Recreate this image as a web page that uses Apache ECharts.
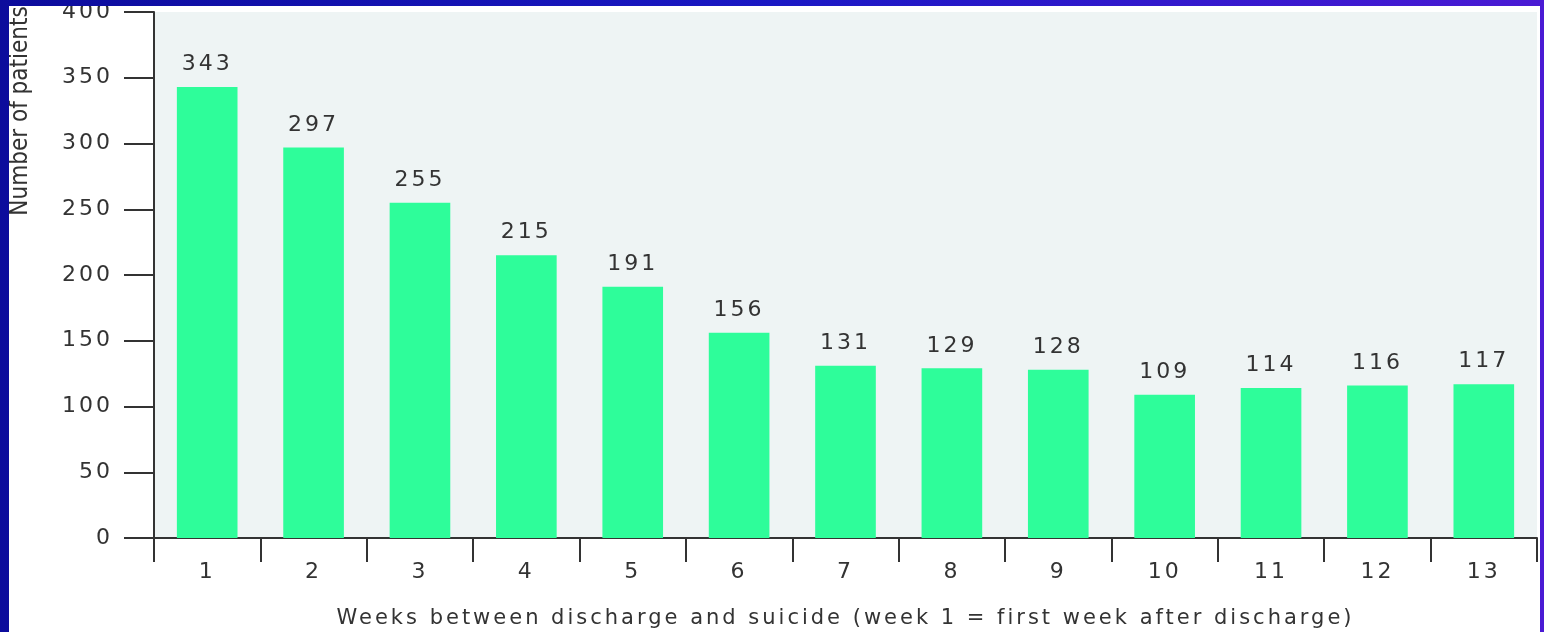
<!DOCTYPE html>
<html>
<head>
<meta charset="utf-8">
<script src="https://cdn.jsdelivr.net/npm/echarts@6/dist/echarts.min.js"></script>
<style>
  html, body { margin: 0; padding: 0; }
  body { width: 1544px; height: 632px; background: linear-gradient(90deg, #0c0c9c 0%, #1a18c4 50%, #4a1ad4 100%); position: relative; overflow: hidden; }
  #chart { position: absolute; left: 9px; top: 6px; width: 1531px; height: 626px; background: #ffffff; }
</style>
</head>
<body>
<div id="chart"></div>
<script>
const weeks = ['1','2','3','4','5','6','7','8','9','10','11','12','13'];
const patients = [343, 297, 255, 215, 191, 156, 131, 129, 128, 109, 114, 116, 117];
const yAxisTitle = 'Number of patients';
const xAxisTitle = 'Weeks between discharge and suicide (week 1 = first week after discharge)';

// Slightly letter-spaced text, like the wide typeface of the reference (condensed title kept tight)
(function () {
  const proto = CanvasRenderingContext2D.prototype;
  const desc = Object.getOwnPropertyDescriptor(proto, 'font');
  if (!desc || !('letterSpacing' in proto)) return;
  Object.defineProperty(proto, 'font', {
    configurable: true,
    get() { return desc.get.call(this); },
    set(v) {
      desc.set.call(this, v);
      this.letterSpacing = /Narrow/.test(v) ? '0px' : '3px';
    }
  });
})();

const chart = echarts.init(document.getElementById('chart'));
const txt = '#333333';
const numFont = 'DejaVu Sans';
chart.setOption({
  backgroundColor: '#ffffff',
  animation: false,
  grid: { left: 145, right: 3, top: 6, bottom: 94, outerBoundsMode: 'none', containLabel: false, show: true, backgroundColor: '#eef4f4', borderWidth: 0 },
  xAxis: {
    type: 'category',
    data: weeks,
    name: xAxisTitle,
    nameLocation: 'middle',
    nameGap: 69,
    nameTextStyle: { color: txt, fontSize: 21, fontFamily: numFont },
    axisLine: { show: true, lineStyle: { color: '#333', width: 2 } },
    axisTick: { show: true, length: 24, interval: 0, lineStyle: { color: '#333', width: 2 } },
    axisLabel: { color: txt, fontSize: 22, fontFamily: numFont, margin: 22, interval: 0 }
  },
  yAxis: {
    type: 'value',
    min: 0, max: 400, interval: 50,
    axisLine: { show: true, lineStyle: { color: '#333', width: 2 } },
    axisTick: { show: true, length: 30, lineStyle: { color: '#333', width: 2 } },
    axisLabel: { color: txt, fontSize: 22, fontFamily: numFont, margin: 41 },
    splitLine: { show: false }
  },
  graphic: [{
    type: 'text',
    x: 12, y: 105,
    rotation: Math.PI / 2,
    style: { text: yAxisTitle, fill: txt, fontSize: 24, fontFamily: 'Liberation Sans Narrow, DejaVu Sans Condensed, sans-serif', align: 'center', verticalAlign: 'middle' }
  }],
  series: [{
    type: 'bar',
    data: patients,
    barWidth: '57%',
    itemStyle: { color: '#2efd9a' },
    label: { show: true, position: 'top', distance: 10, color: txt, fontSize: 22, fontFamily: numFont }
  }]
});
</script>
</body>
</html>
